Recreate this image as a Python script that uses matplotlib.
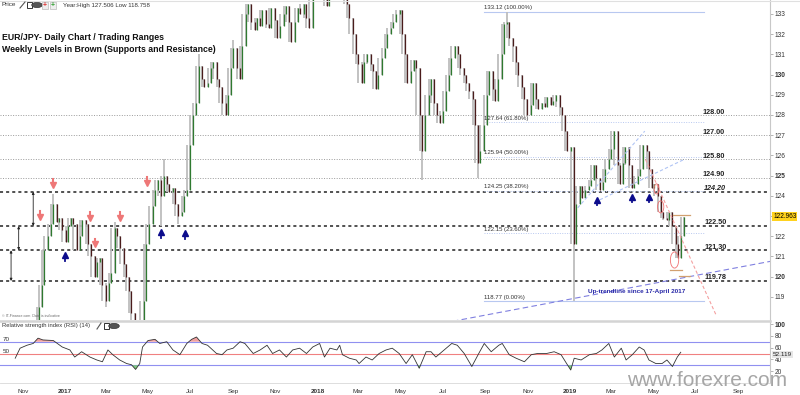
import numpy as np
import pandas as pd
import matplotlib
matplotlib.use('Agg')
import matplotlib.pyplot as plt
import matplotlib.dates as mdates
from matplotlib.patches import Ellipse, Rectangle, Circle
from matplotlib.lines import Line2D
import matplotlib.transforms as mtransforms

plt.rcParams['font.family'] = ['Liberation Sans', 'DejaVu Sans']

# ---------------- data ----------------
start_date = '2016-10-21'   # one close every 3 business days
close = [
    114.0, 114.3, 114.6, 114.9, 115.5, 116.3, 117.0, 117.5, 118.5, 119.6,
    121.3, 122.0, 122.6, 123.6, 122.7, 122.9, 122.3, 121.7, 122.5, 122.9,
    122.6, 121.3, 122.0, 122.8, 122.6, 121.6, 121.0, 120.0, 120.7, 120.9,
    119.6, 118.8, 119.7, 120.2, 122.4, 122.0, 121.4, 120.6, 120.0, 119.3,
    118.2, 117.4, 115.2, 116.0, 118.8, 121.6, 122.6, 123.5, 124.3, 124.8,
    124.0, 125.0, 124.6, 124.2, 124.4, 123.6, 123.0, 123.2, 124.0, 124.3,
    126.5, 128.0, 128.6, 130.4, 129.8, 129.4, 129.6, 130.3, 130.6, 129.8,
    129.4, 128.6, 128.0, 129.0, 130.3, 131.3, 130.3, 129.8, 131.4, 133.0,
    133.5, 132.6, 132.2, 132.8, 132.4, 133.2, 132.5, 132.3, 133.3, 132.7,
    131.8, 132.4, 133.0, 133.4, 132.6, 131.6, 132.6, 133.3, 133.0, 133.5,
    132.8, 132.3, 133.8, 134.5, 135.0, 134.8, 134.2, 133.4, 134.5, 135.5,
    136.5, 136.0, 135.5, 134.5, 133.5, 132.8, 132.0, 131.0, 130.5, 129.6,
    130.6, 131.0, 130.5, 130.2, 129.3, 130.0, 130.8, 131.3, 132.0, 132.3,
    132.6, 133.0, 133.2, 132.0, 131.0, 129.6, 130.2, 130.7, 130.3, 128.0,
    126.2, 128.0, 129.0, 129.8, 128.6, 128.0, 127.6, 128.2, 129.2, 130.0,
    130.8, 131.4, 131.0, 130.3, 130.0, 129.6, 129.2, 128.8, 127.5, 125.6,
    126.2, 127.5, 129.0, 130.2, 129.3, 128.7, 129.8, 131.0, 132.5, 132.6,
    131.8, 131.4, 130.6, 130.0, 129.4, 128.8, 128.0, 128.5, 129.6, 128.8,
    128.3, 128.6, 128.4, 128.9, 128.5, 128.7, 129.0, 128.4, 128.0, 127.2,
    126.2, 126.4, 121.6, 123.6, 124.5, 123.9, 124.3, 124.5, 124.8, 125.5,
    124.9, 124.3, 124.7, 125.3, 125.8, 126.3, 127.2, 125.5, 124.6, 125.6,
    126.4, 125.5, 124.4, 124.6, 125.0, 125.3, 126.5, 126.2, 125.3, 124.4,
    124.6, 124.0, 123.2, 122.9, 122.8, 123.2, 122.5, 121.6, 120.9, 122.0,
    122.96,
]
# notable wick extremes (candle index -> price)
spike_low_idx = [192, 140, 159, 50, 56, 31]
spike_low_val = [118.77, 124.8, 124.9, 122.5, 122.6, 118.5]
spike_high_idx = [13, 51, 34, 169, 63, 75]
spike_high_val = [124.1, 125.8, 122.7, 133.12, 131.0, 131.7]

rsi_dates = ['2016-10-21', '2016-10-28', '2016-11-07', '2016-11-16', '2016-11-23', '2016-11-30',
             '2016-12-15', '2016-12-28', '2017-01-08', '2017-01-15', '2017-01-25', '2017-02-06',
             '2017-02-16', '2017-02-24', '2017-03-04', '2017-03-11', '2017-03-21', '2017-03-31',
             '2017-04-07', '2017-04-13', '2017-04-19', '2017-04-23', '2017-05-01', '2017-05-11',
             '2017-05-18', '2017-05-28', '2017-06-06', '2017-06-16', '2017-06-26', '2017-07-03',
             '2017-07-10', '2017-07-18', '2017-07-26', '2017-08-08', '2017-08-16', '2017-08-23',
             '2017-09-01', '2017-09-11', '2017-09-18', '2017-09-30', '2017-10-10', '2017-10-20',
             '2017-10-28', '2017-11-07', '2017-11-17', '2017-11-26', '2017-12-06', '2017-12-16',
             '2017-12-25', '2018-01-04', '2018-01-11', '2018-01-19', '2018-01-29', '2018-02-02',
             '2018-02-06', '2018-02-16', '2018-02-26', '2018-03-02', '2018-03-12', '2018-03-21',
             '2018-03-31', '2018-04-10', '2018-04-19', '2018-04-29', '2018-05-09', '2018-05-18',
             '2018-05-28', '2018-06-07', '2018-06-14', '2018-06-21', '2018-06-30', '2018-07-14',
             '2018-07-22', '2018-08-01', '2018-08-12', '2018-08-22', '2018-08-30', '2018-09-09',
             '2018-09-20', '2018-09-25', '2018-10-05', '2018-10-15', '2018-10-27', '2018-11-06',
             '2018-11-15', '2018-11-28', '2018-12-09', '2018-12-19', '2018-12-27', '2019-01-02',
             '2019-01-07', '2019-01-17', '2019-01-29', '2019-02-08', '2019-02-16', '2019-02-26',
             '2019-03-06', '2019-03-16', '2019-03-23', '2019-04-01', '2019-04-11', '2019-04-18',
             '2019-04-25', '2019-05-05', '2019-05-14', '2019-05-21', '2019-05-29', '2019-06-05',
             '2019-06-10']
rsi_values = [42, 59, 64, 67, 76, 73, 72, 61, 56, 44, 53, 44, 39, 36, 56, 48, 39, 33, 31, 23,
              33, 61, 72, 74, 67, 70, 56, 48, 67, 74, 78, 67, 64, 50, 48, 56, 59, 70, 67, 50,
              56, 64, 50, 56, 44, 56, 59, 50, 61, 67, 44, 59, 56, 64, 48, 42, 39, 33, 44, 39,
              50, 56, 59, 50, 33, 48, 25, 53, 53, 44, 53, 67, 64, 50, 28, 50, 67, 53, 64, 67,
              48, 42, 36, 48, 50, 50, 53, 48, 33, 22, 42, 39, 48, 50, 56, 67, 44, 59, 39, 48,
              61, 56, 39, 33, 33, 39, 28, 44, 52.119]

weekly_levels = [124.20, 122.50, 121.30, 119.78]
weekly_labels = ['124.20', '122.50', '121.30', '119.78']
minor_levels = [128.00, 127.00, 125.80, 124.90]
minor_labels = ['128.00', '127.00', '125.80', '124.90']
fib_levels = [133.12, 127.64, 125.94, 124.25, 122.15, 118.77]
fib_pcts = ['100.00%', '61.80%', '50.00%', '38.20%', '23.60%', '0.00%']
fib_span = ['2018-08-29', '2019-07-14']

down_arrow_dates = ['2016-11-26', '2016-12-14', '2017-02-06', '2017-02-13', '2017-03-21', '2017-04-29']
down_arrow_prices = [122.95, 124.55, 122.90, 121.60, 122.90, 124.65]
up_arrow_dates = ['2017-01-01', '2017-05-19', '2017-06-23', '2019-02-09', '2019-04-01', '2019-04-25']
up_arrow_prices = [121.05, 122.20, 122.15, 123.80, 123.95, 123.95]

range_arrow_dates = ['2016-11-16', '2016-10-26', '2016-10-15']
range_arrow_top = [124.20, 122.50, 121.30]
range_arrow_bot = [122.50, 121.30, 119.78]

uptrend = (['2017-04-17', '2019-10-17'], [114.85, 120.75])
channel_a = (['2019-01-12', '2019-04-19'], [123.40, 127.20])
channel_b = (['2019-02-13', '2019-06-15'], [123.80, 125.80])
downtrend = (['2019-04-20', '2019-07-31'], [125.80, 118.10])
ellipse_dates = ['2019-05-06', '2019-05-12', '2019-06-01']
ellipse_prices = [124.34, 123.45, 120.82]
ellipse_w = [7, 9, 12]
ellipse_h = [0.5, 0.6, 0.8]
brown_seg_start = ['2019-05-30', '2019-05-26', '2019-06-07']
brown_seg_end = ['2019-06-24', '2019-06-12', '2019-06-24']
brown_seg_price = [123.05, 120.33, 120.03]

month_ticks = ['2016-11-01', '2017-01-01', '2017-03-01', '2017-05-01', '2017-07-01', '2017-09-01',
               '2017-11-01', '2018-01-01', '2018-03-01', '2018-05-01', '2018-07-01', '2018-09-01',
               '2018-11-01', '2019-01-01', '2019-03-01', '2019-05-01', '2019-07-01', '2019-09-01']
month_labels = ['Nov', '2017', 'Mar', 'May', 'Jul', 'Sep', 'Nov', '2018', 'Mar', 'May', 'Jul', 'Sep',
                'Nov', '2019', 'Mar', 'May', 'Jul', 'Sep']
price_ticks = list(range(119, 134))
last_price = '122.963'
last_rsi = '52.119'

# ---------------- figure ----------------
W, H = 800, 395
fig = plt.figure(figsize=(W / 100, H / 100), dpi=100)
fig.patch.set_facecolor('white')

def fx(px):
    return px / W

def fy(py):
    return 1 - py / H

ax = fig.add_axes([0, fy(320), fx(770), 320 / H])
rax = fig.add_axes([0, fy(383), fx(770), 61 / H], sharex=ax)

dn = mdates.date2num
xmin, xmax = dn(pd.Timestamp('2016-09-29')), dn(pd.Timestamp('2019-10-17'))
ax.set_xlim(xmin, xmax)
ax.set_ylim(117.85, 133.69)

dates = pd.date_range(start_date, periods=len(close), freq='3B')
xs = dn(dates)
n = len(close)
opens = [close[0]] + close[:-1]
lo_w, hi_w = [], []
for i in range(n):
    nxt = close[i + 1] if i + 1 < n else close[i]
    lo_w.append(min(opens[i], close[i], nxt))
    hi_w.append(max(opens[i], close[i], nxt))
for k, v in zip(spike_low_idx, spike_low_val):
    lo_w[k] = min(lo_w[k], v)
for k, v in zip(spike_high_idx, spike_high_val):
    hi_w[k] = max(hi_w[k], v)

ax.vlines(xs, lo_w, hi_w, color='#bdbdbd', lw=1.3, zorder=2)
b_lo = [min(o, c) for o, c in zip(opens, close)]
b_hi = [max(max(o, c), min(o, c) + 0.06) for o, c in zip(opens, close)]
b_col = ['#2f7a30' if c >= o else '#4a1c1c' for o, c in zip(opens, close)]
ax.vlines(xs, b_lo, b_hi, colors=b_col, lw=0.9, zorder=3)

# level lines
for lv in minor_levels:
    ax.axhline(lv, color='#9a9a9a', lw=0.7, ls=(0, (1, 1.6)), zorder=1)
for lv in weekly_levels:
    ax.axhline(lv, color='#222222', lw=1.1, ls=(0, (2, 2)), zorder=1)

lab_x = dn(pd.Timestamp('2019-07-12'))
for lv, t in zip(minor_levels, minor_labels):
    ax.text(lab_x, lv + 0.14, t, fontsize=5.2, fontweight='bold', color='#222', va='center', ha='left', zorder=6)
for lv, t in zip(weekly_levels, weekly_labels):
    style = 'italic' if t == '124.20' else 'normal'
    ax.text(lab_x + 2, lv + 0.16, t, fontsize=5.2, fontweight='bold', fontstyle=style,
            color='#222', va='center', ha='left', zorder=6)

# fibonacci
f0, f1 = dn(pd.Timestamp(fib_span[0])), dn(pd.Timestamp(fib_span[1]))
for lv, pc in zip(fib_levels, fib_pcts):
    if pc in ('100.00%', '0.00%'):
        ax.plot([f0, f1], [lv, lv], color='#b8c8f0', lw=0.8, zorder=1)
    else:
        ax.plot([f0, f1], [lv, lv], color='#b8c8f0', lw=0.7, ls=(0, (1, 1.5)), zorder=1)
    ax.text(f0, lv + 0.06, f'{lv:.2f} ({pc})', fontsize=4.3, color='#333', va='bottom', ha='left', zorder=6)

# trendlines
def pline(seg, **kw):
    ax.plot(dn(pd.to_datetime(seg[0])), seg[1], **kw)

pline(uptrend, color='#8080e0', lw=0.8, ls=(0, (5, 3)), zorder=4)
pline(channel_a, color='#b0c4f4', lw=0.8, ls=(0, (3, 2)), zorder=4)
pline(channel_b, color='#b0c4f4', lw=0.8, ls=(0, (3, 2)), zorder=4)
pline(downtrend, color='#f4a0a0', lw=0.8, ls=(0, (3, 2)), zorder=4)
ax.text(dn(pd.Timestamp('2019-04-07')), 119.25, 'Up-trendline since 17-April 2017', fontsize=4.6,
        fontweight='bold', color='#2a2aa8', ha='center', va='center', zorder=6)

for d, p, w, h in zip(ellipse_dates, ellipse_prices, ellipse_w, ellipse_h):
    ax.add_patch(Ellipse((dn(pd.Timestamp(d)), p), w, h, fill=False, ec='#f07070', lw=0.6, zorder=5))
for s, e, p in zip(brown_seg_start, brown_seg_end, brown_seg_price):
    ax.plot([dn(pd.Timestamp(s)), dn(pd.Timestamp(e))], [p, p], color='#d2a070', lw=0.9, zorder=5)

# markers
for d, p in zip(down_arrow_dates, down_arrow_prices):
    xd = dn(pd.Timestamp(d))
    ax.plot([xd, xd], [p + 0.05, p + 0.28], color='#ee7777', lw=1.5, zorder=6)
    ax.plot(xd, p, marker='v', ms=4.5, color='#ee7777', mec='#ee7777', zorder=6)
for d, p in zip(up_arrow_dates, up_arrow_prices):
    xd = dn(pd.Timestamp(d))
    ax.plot([xd, xd], [p - 0.28, p - 0.05], color='#0c0c8c', lw=1.3, zorder=6)
    ax.plot(xd, p, marker='^', ms=4.5, color='#0c0c8c', mec='#0c0c8c', zorder=6)
for d, t, b in zip(range_arrow_dates, range_arrow_top, range_arrow_bot):
    xd = dn(pd.Timestamp(d))
    ax.annotate('', xy=(xd, t), xytext=(xd, b),
                arrowprops=dict(arrowstyle='<|-|>', lw=0.6, color='#222', mutation_scale=3.5,
                                shrinkA=0, shrinkB=0), zorder=6)

# axes styling - main
ax.yaxis.tick_right()
ax.set_yticks(price_ticks)
# the 123 label is hidden behind the last-price box, as in the source chart
ax.set_yticklabels(['' if v == 123 else str(v) for v in price_ticks])
for lbl, v in zip(ax.get_yticklabels(), price_ticks):
    lbl.set_fontweight('bold' if v % 5 == 0 else 'normal')
ax.tick_params(axis='y', right=True, length=2, width=0.5, colors='#999', labelsize=4.7,
               labelcolor='#333', pad=1.5)
ax.tick_params(axis='x', bottom=False, labelbottom=False)
for s in ['left', 'top', 'bottom']:
    ax.spines[s].set_visible(False)
ax.spines['right'].set_color('#c8c8c8')
ax.spines['right'].set_linewidth(0.8)

trans = mtransforms.blended_transform_factory(ax.transAxes, ax.transData)
ax.text(1.004, float(last_price), last_price, transform=trans, fontsize=4.7, va='center', ha='left',
        color='#000', bbox=dict(boxstyle='square,pad=0.15', fc='#ffd21f', ec='none'), zorder=10,
        clip_on=False)

# ---------------- RSI ----------------
rd = dn(pd.to_datetime(rsi_dates))
rv = np.array(rsi_values, dtype=float)
rax.set_ylim(0, 103.4)
rax.axhline(70, color='#9090f0', lw=0.8, zorder=1)
rax.axhline(50, color='#f08080', lw=0.8, zorder=1)
rax.axhline(30, color='#9090f0', lw=0.8, zorder=1)
rax.fill_between(rd, rv, 70, where=rv > 70, interpolate=True, color='#f0a0a0', lw=0, zorder=2)
rax.fill_between(rd, rv, 30, where=rv < 30, interpolate=True, color='#7fc97f', lw=0, zorder=2)
rax.plot(rd, rv, color='#333333', lw=0.6, zorder=3)
rax.yaxis.tick_right()
rax.set_yticks([20, 40, 60, 80, 100])
rax.set_yticklabels(['20', '40', '60', '80', '100'])
rax.get_yticklabels()[-1].set_fontweight('bold')
rax.tick_params(axis='y', right=True, length=2, width=0.5, colors='#999', labelsize=4.7,
                labelcolor='#333', pad=1.5)
for s in ['left', 'top']:
    rax.spines[s].set_visible(False)
rax.spines['right'].set_color('#c8c8c8')
rax.spines['bottom'].set_color('#d8d8d8')
rax.spines['bottom'].set_linewidth(0.6)
rax.set_xticks(dn(pd.to_datetime(month_ticks)))
rax.set_xticklabels(month_labels)
for lbl in rax.get_xticklabels():
    if lbl.get_text().isdigit():
        lbl.set_fontweight('bold')
rax.tick_params(axis='x', length=0, labelsize=4.6, labelcolor='#333', pad=4)
ltrans = mtransforms.blended_transform_factory(rax.transAxes, rax.transData)
rax.text(0.003, 70, '70', transform=ltrans, fontsize=4.5, va='bottom', ha='left', color='#333')
rax.text(0.003, 50, '50', transform=ltrans, fontsize=4.5, va='bottom', ha='left', color='#333')
rax.text(1.004, 48.5, last_rsi, transform=ltrans, fontsize=4.6, va='center', ha='left',
         color='#222', bbox=dict(boxstyle='square,pad=0.1', fc='#e6e6e6', ec='none'), zorder=10,
         clip_on=False)

# ---------------- figure decorations ----------------
fig.add_artist(Line2D([0, fx(770)], [fy(321), fy(321)], color='#d4d4d4', lw=1.8))
fig.add_artist(Line2D([0, 1], [fy(0.5), fy(0.5)], color='#e0e0e0', lw=0.8))
fig.text(fx(2), fy(5), 'Price', fontsize=4.6, color='#333', va='center', ha='left')
fig.add_artist(Line2D([fx(20), fx(25)], [fy(8), fy(2)], color='#555', lw=0.8))
fig.add_artist(Rectangle((fx(27), fy(8)), fx(5), 6 / H, fill=False, ec='#333', lw=0.7))
fig.add_artist(Circle((fx(37), fy(5)), 2.6 / H, fc='#555', ec='#333', lw=0.5, transform=fig.transFigure))
fig.add_artist(Rectangle((fx(42), fy(9)), fx(6), 7 / H, fc='#eee', ec='#bbb', lw=0.5))
fig.text(fx(45), fy(5.3), '+', fontsize=5, color='#e03030', ha='center', va='center', fontweight='bold')
fig.add_artist(Rectangle((fx(50), fy(9)), fx(6), 7 / H, fc='#eee', ec='#bbb', lw=0.5))
fig.text(fx(53), fy(5.3), '+', fontsize=5, color='#30a030', ha='center', va='center', fontweight='bold')
fig.text(fx(63), fy(5), 'Year:High 127.506 Low 118.758', fontsize=4.4, color='#333', va='center', ha='left')
fig.text(fx(2), fy(38), 'EUR/JPY- Daily Chart / Trading Ranges', fontsize=6.3, fontweight='bold',
         color='#111', va='center', ha='left')
fig.text(fx(2), fy(50), 'Weekly Levels in Brown (Supports and Resistance)', fontsize=6.3,
         fontweight='bold', color='#111', va='center', ha='left')
fig.text(fx(2), fy(316), '\u00a9 IT-Finance.com  Data is indicative', fontsize=2.6, color='#666',
         va='center', ha='left')
fig.text(fx(2), fy(326), 'Relative strength index (RSI) (14)', fontsize=4.2, color='#333',
         va='center', ha='left')
fig.add_artist(Line2D([fx(97), fx(101)], [fy(329), fy(323)], color='#555', lw=0.8))
fig.add_artist(Rectangle((fx(104), fy(329)), fx(5), 6 / H, fill=False, ec='#333', lw=0.7))
fig.add_artist(Circle((fx(114), fy(326)), 2.6 / H, fc='#555', ec='#333', lw=0.5, transform=fig.transFigure))
fig.text(fx(627), fy(385.5), 'www.forexre.com', fontsize=15, color='#a6a6a6', va='baseline', ha='left',
         zorder=20)

fig.savefig('out.png', dpi=100, facecolor='white')
